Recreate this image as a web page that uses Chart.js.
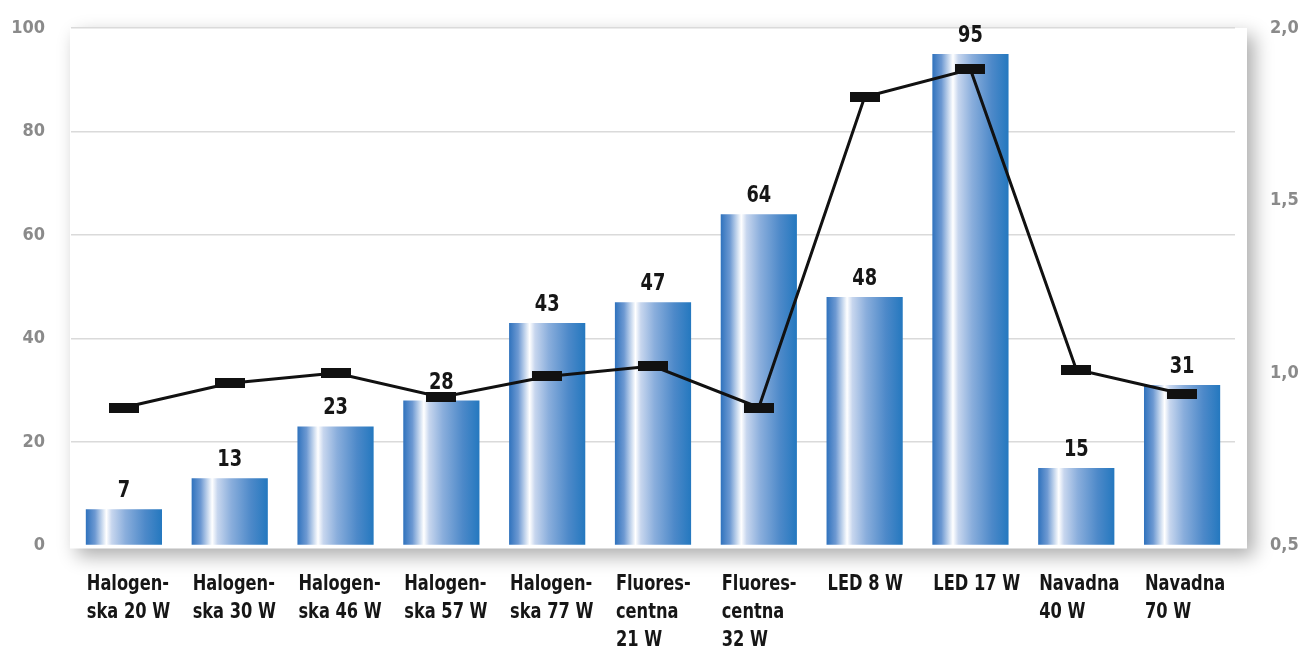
<!DOCTYPE html>
<html>
<head>
<meta charset="utf-8">
<script src="https://cdn.jsdelivr.net/npm/chart.js@4/dist/chart.umd.min.js"></script>
<style>
  html, body { margin: 0; padding: 0; background: #ffffff; }
  #wrap { width: 1300px; height: 649px; }
</style>
</head>
<body>
<div id="wrap"><canvas id="c" width="1300" height="649"></canvas></div>
<script>
// Lamp types (multi-line labels under each bar)
const categories = [
  ['Halogen-', 'ska 20 W'],
  ['Halogen-', 'ska 30 W'],
  ['Halogen-', 'ska 46 W'],
  ['Halogen-', 'ska 57 W'],
  ['Halogen-', 'ska 77 W'],
  ['Fluores-', 'centna', '21 W'],
  ['Fluores-', 'centna', '32 W'],
  ['LED 8 W'],
  ['LED 17 W'],
  ['Navadna', '40 W'],
  ['Navadna', '70 W']
];

// Bar series (left axis)
const barValues = [7, 13, 23, 28, 43, 47, 64, 48, 95, 15, 31];

// Line series (right axis)
const lineValues = [0.90, 0.97, 1.00, 0.93, 0.99, 1.02, 0.90, 1.80, 1.88, 1.01, 0.94];

// Axis ranges and steps
const leftAxis = { min: 0, max: 100, step: 20 };
const rightAxis = { min: 0.5, max: 2.0, step: 0.5 };

const FONT = "'Liberation Sans Narrow', 'DejaVu Sans Condensed', 'Arial Narrow', sans-serif";
Chart.defaults.font.family = FONT;

// Horizontal squeeze for the condensed headline look of the labels
const SQUEEZE = 0.86;

// Flat rectangular marker for the line points
const marker = document.createElement('canvas');
marker.width = 30;
marker.height = 10;
(function () {
  const m = marker.getContext('2d');
  m.fillStyle = '#111111';
  m.fillRect(0, 0, 30, 10);
})();

const BAR_PCT = 0.72;

// Cylinder-like horizontal gradient for each bar
function barGradient(c) {
  const chart = c.chart;
  const xs = chart.scales && chart.scales.x;
  if (c.type !== 'data' || !xs || !xs.width) return '#2a7bc0';
  const cx = xs.getPixelForValue(c.dataIndex);
  const w = (xs.width / categories.length) * BAR_PCT;
  const g = chart.ctx.createLinearGradient(cx - w / 2, 0, cx + w / 2, 0);
  g.addColorStop(0.00, '#2f72bd');
  g.addColorStop(0.12, '#6d99d2');
  g.addColorStop(0.27, '#ffffff');
  g.addColorStop(0.34, '#c7d6ee');
  g.addColorStop(0.52, '#8aaedc');
  g.addColorStop(0.78, '#4d89c9');
  g.addColorStop(1.00, '#2478bf');
  return g;
}

// White panel with soft drop shadow behind the plot
const panelPlugin = {
  id: 'panel',
  beforeDraw(chart) {
    const { ctx, chartArea: a } = chart;
    ctx.save();
    ctx.fillStyle = '#ffffff';
    ctx.fillRect(0, 0, chart.width, chart.height);
    ctx.shadowColor = 'rgba(0,0,0,0.33)';
    ctx.shadowBlur = 18;
    ctx.shadowOffsetX = 7;
    ctx.shadowOffsetY = 7;
    ctx.fillStyle = '#ffffff';
    ctx.fillRect(a.left - 1, a.top, (a.right + 12) - (a.left - 1), (a.bottom + 3) - a.top);
    ctx.restore();
  }
};

function squeezedText(ctx, text, x, y) {
  ctx.save();
  ctx.translate(x, y);
  ctx.scale(SQUEEZE, 1);
  ctx.fillText(text, 0, 0);
  ctx.restore();
}

// Value above each bar and left-aligned category labels below it
const labelPlugin = {
  id: 'labels',
  afterDatasetsDraw(chart) {
    const { ctx } = chart;
    const meta = chart.getDatasetMeta(1);
    ctx.save();
    ctx.fillStyle = '#161616';
    ctx.font = 'bold 23px ' + FONT;
    ctx.textAlign = 'center';
    ctx.textBaseline = 'alphabetic';
    meta.data.forEach((bar, i) => {
      squeezedText(ctx, String(barValues[i]), bar.x, bar.y - 12);
    });
    ctx.font = 'bold 21px ' + FONT;
    ctx.textAlign = 'left';
    meta.data.forEach((bar, i) => {
      const left = bar.x - bar.width / 2 + 1;
      categories[i].forEach((line, k) => {
        squeezedText(ctx, line, left, 590 + k * 28);
      });
    });
    ctx.restore();
  }
};

// Keep the tick-label gap from pushing the plot area inward
function noEdgePadding(s) {
  s.paddingTop = 0;
  s.paddingBottom = 0;
}

new Chart(document.getElementById('c'), {
  data: {
    labels: categories,
    datasets: [
      {
        type: 'line',
        data: lineValues,
        yAxisID: 'y1',
        borderColor: '#111111',
        borderWidth: 3,
        pointStyle: marker,
        pointRadius: 5,
        tension: 0,
        order: 0
      },
      {
        type: 'bar',
        data: barValues,
        yAxisID: 'y',
        backgroundColor: barGradient,
        borderWidth: 0,
        barPercentage: BAR_PCT,
        categoryPercentage: 1.0,
        order: 1
      }
    ]
  },
  options: {
    responsive: false,
    animation: false,
    layout: { padding: { top: 28, left: 0, right: 0, bottom: 0 } },
    plugins: { legend: { display: false }, tooltip: { enabled: false } },
    scales: {
      x: {
        type: 'category',
        offset: true,
        grid: { display: false, drawTicks: false },
        border: { display: false },
        ticks: { display: false },
        afterFit(s) { s.height = 103.5; }
      },
      y: {
        position: 'left',
        min: leftAxis.min,
        max: leftAxis.max,
        border: { display: false },
        grid: {
          drawTicks: false,
          lineWidth: 1.5,
          color: (c) => (c.tick && c.tick.value === 0 ? 'rgba(0,0,0,0)' : '#dadada')
        },
        ticks: {
          stepSize: leftAxis.step,
          padding: 26,
          color: '#8a8a8a',
          font: { size: 18, weight: 'bold' }
        },
        afterFit(s) { s.width = 71; noEdgePadding(s); }
      },
      y1: {
        position: 'right',
        min: rightAxis.min,
        max: rightAxis.max,
        border: { display: false },
        grid: { display: false, drawTicks: false },
        ticks: {
          stepSize: rightAxis.step,
          padding: 35,
          color: '#8a8a8a',
          font: { size: 18, weight: 'bold' },
          callback: (v) => Number(v).toFixed(1).replace('.', ',')
        },
        afterFit(s) { s.width = 65; noEdgePadding(s); }
      }
    }
  },
  plugins: [panelPlugin, labelPlugin]
});
</script>
</body>
</html>
